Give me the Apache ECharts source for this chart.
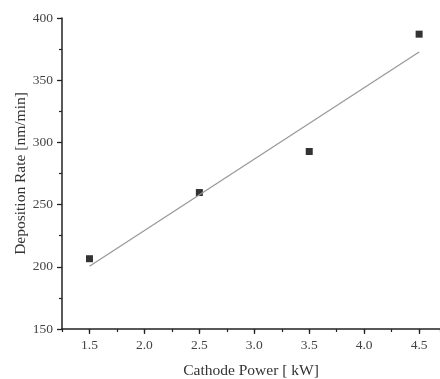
<!DOCTYPE html>
<html>
<head>
<meta charset="utf-8">
<script src="https://cdn.jsdelivr.net/npm/echarts@6/dist/echarts.min.js"></script>
<style>
  html, body { margin: 0; padding: 0; background: #fff; }
  #chart { width: 440px; height: 379px; }
</style>
</head>
<body>
<div id="chart"></div>
<script>
// measured points
const powerKW = [1.5, 2.5, 3.5, 4.5];
const depRate = [206.5, 259.7, 292.7, 387];
// linear fit line end points
const fitX = [1.5, 4.5];
const fitY = [200.5, 372.7];
const xTickLabels = [1.5, 2.0, 2.5, 3.0, 3.5, 4.0, 4.5];

const font = 'Liberation Serif';
const chart = echarts.init(document.getElementById('chart'));

chart.setOption({
  animation: false,
  grid: { left: 62, right: 0, top: 18, bottom: 50, outerBoundsMode: 'none' },
  xAxis: [
    {
      type: 'value',
      min: 1.25,
      max: 4.69,
      name: 'Cathode Power [ kW]',
      nameLocation: 'middle',
      nameGap: 34,
      nameMoveOverlap: false,
      nameTextStyle: { fontFamily: font, fontSize: 15.5, color: '#333' },
      axisLine: { lineStyle: { color: '#222', width: 1.5 } },
      axisTick: { length: 5, customValues: xTickLabels, lineStyle: { color: '#222', width: 1.3 } },
      axisLabel: {
        customValues: xTickLabels,
        margin: 9,
        fontFamily: font,
        fontSize: 13.5,
        color: '#444',
        formatter: (v) => v.toFixed(1),
      },
      splitLine: { show: false },
    },
    {
      type: 'value',
      position: 'bottom',
      min: 1.25,
      max: 4.69,
      interval: 0.25,
      axisLine: { show: false },
      axisTick: { length: 3, lineStyle: { color: '#222', width: 1.2 } },
      axisLabel: { show: false },
      splitLine: { show: false },
    },
  ],
  yAxis: {
    type: 'value',
    min: 150,
    max: 400,
    interval: 50,
    name: 'Deposition Rate [nm/min]',
    nameLocation: 'middle',
    nameGap: 33,
    nameMoveOverlap: false,
    nameTextStyle: { fontFamily: font, fontSize: 15.5, color: '#333' },
    axisLine: { show: true, lineStyle: { color: '#222', width: 1.5 } },
    axisTick: { show: true, length: 5, lineStyle: { color: '#222', width: 1.3 } },
    minorTick: { show: true, splitNumber: 2, length: 3, lineStyle: { color: '#222', width: 1.2 } },
    axisLabel: { margin: 9, fontFamily: font, fontSize: 13.5, color: '#444' },
    splitLine: { show: false },
  },
  series: [
    {
      type: 'line',
      data: fitX.map((x, i) => [x, fitY[i]]),
      showSymbol: false,
      lineStyle: { color: '#999', width: 1.3 },
      silent: true,
    },
    {
      type: 'scatter',
      data: powerKW.map((x, i) => [x, depRate[i]]),
      symbol: 'rect',
      symbolSize: 7,
      itemStyle: { color: '#000' },
    },
  ],
});
</script>
</body>
</html>
